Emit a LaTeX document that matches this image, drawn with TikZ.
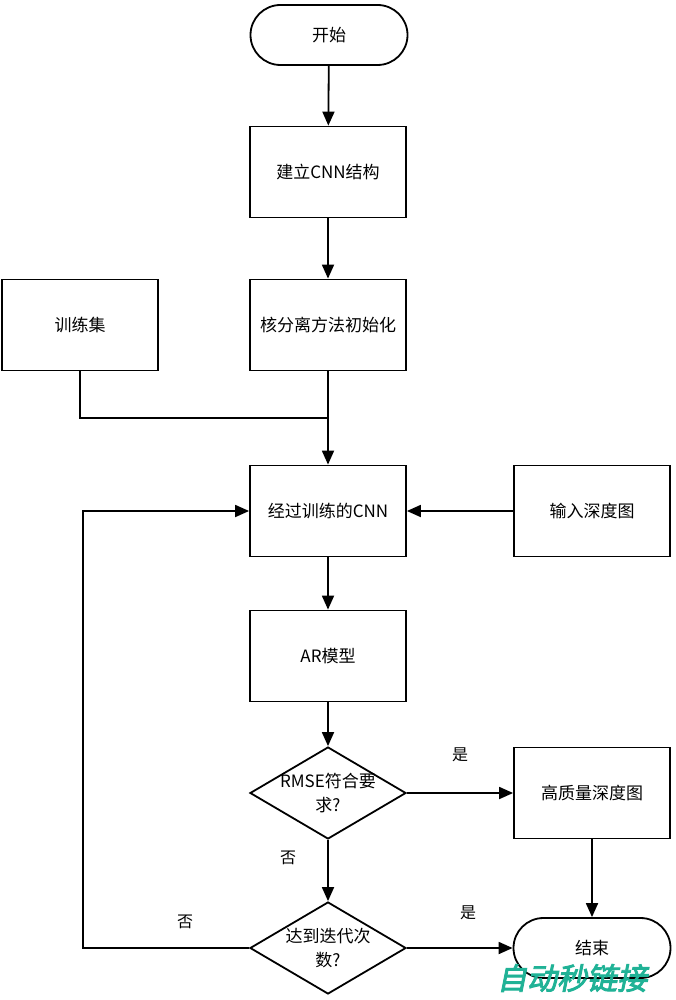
\documentclass[tikz,border=0pt]{standalone}
\usepackage{fontspec}
\newfontfamily\cjk{Noto Sans CJK SC}
\newfontfamily\wmfont[FakeBold=3,FakeSlant=0.2]{Noto Sans CJK SC}
\usetikzlibrary{shapes.geometric,arrows.meta}
\definecolor{wmteal}{RGB}{32,178,150}
\tikzset{
  base/.style={draw=black, line width=1.8pt, font=\cjk\fontsize{17}{24}\selectfont, inner sep=0pt},
  procbox/.style={base, rectangle, minimum width=156pt, minimum height=91pt},
  termbox/.style={base, rectangle, rounded corners=30pt, minimum width=157pt, minimum height=60pt},
  decbox/.style={base, diamond, minimum width=156pt, minimum height=92pt},
  conn/.style={line width=1.8pt, draw=black},
  arr/.style={conn, -{Triangle[length=14pt,width=12pt]}},
  lab/.style={font=\cjk\fontsize{16}{18}\selectfont},
  dlab/.style={align=center, font=\cjk\fontsize{17}{24}\selectfont}
}
\begin{document}
\begin{tikzpicture}[x=1pt,y=-1pt]
\useasboundingbox (0,0) rectangle (675,1000);
\node[termbox] (start) at (329,35) {开始};
\node[procbox] (b1) at (328,172) {建立CNN结构};
\node[procbox] (b2) at (328,325) {核分离方法初始化};
\node[procbox] (ts) at (80,325) {训练集};
\node[procbox] (b3) at (328,511) {经过训练的CNN};
\node[procbox] (inp) at (592,511) {输入深度图};
\node[procbox] (ar) at (328,656) {AR模型};
\node[decbox, label={[dlab]center:RMSE符合要\\求?}] (d1) at (328,793) {};
\node[procbox] (hq) at (592,793) {高质量深度图};
\node[decbox, label={[dlab]center:达到迭代次\\数?}] (d2) at (328,948) {};
\node[termbox] (end) at (592,948) {结束};
\coordinate (j) at (328,418);
\coordinate (lp) at (83,0);

\draw[arr] (start) -- (b1);
\draw[arr] (b1) -- (b2);
\draw[conn] (ts.south) |- (j);
\draw[arr] (b2) -- (b3);
\draw[arr] (inp) -- (b3);
\draw[arr] (b3) -- (ar);
\draw[arr] (ar) -- (d1.north);
\draw[arr] (d1.east) -- (hq.west);
\draw[arr] (d1.south) -- (d2.north);
\draw[arr] (d2.east) -- (end.west);
\draw[arr] (hq) -- (end);
\draw[arr] (d2.west) -| (lp |- b3.west) -- (b3.west);

\node[lab] (l1) at (460,755) {是};
\node[lab] (l2) at (288,858) {否};
\node[lab] (l3) at (468,913) {是};
\node[lab] (l4) at (185,922) {否};

\node[text=wmteal, font=\wmfont\fontsize{30}{30}\selectfont] (wm) at (572,978) {自动秒链接};
\end{tikzpicture}
\end{document}
